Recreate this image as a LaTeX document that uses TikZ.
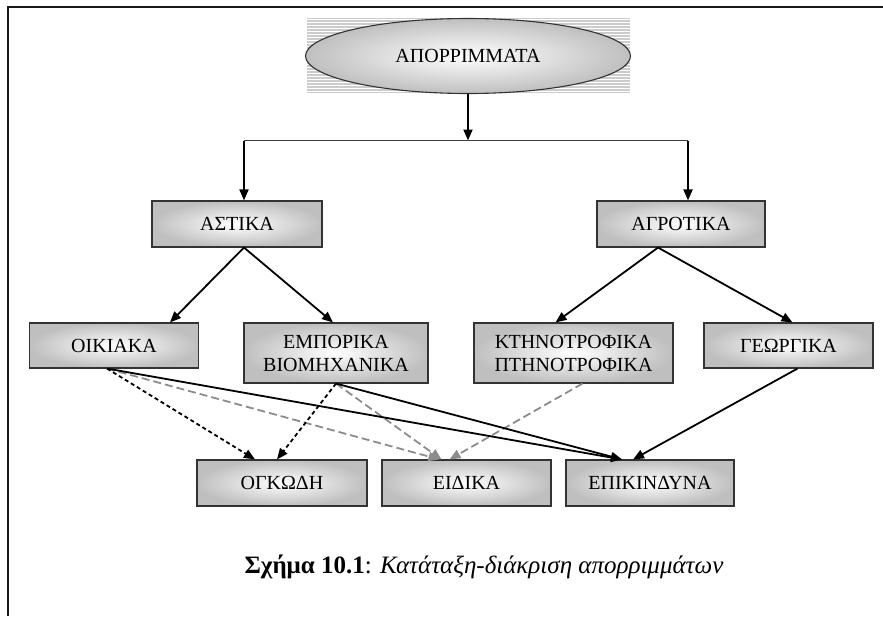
\documentclass[tikz,border=0pt]{standalone}
\usepackage{fontspec}
\setmainfont{Liberation Serif}
\usetikzlibrary{arrows.meta,shapes.geometric,calc}
\tikzset{
  box/.style={draw=black!80, line width=1.1pt, inner color=white, outer color=black!25,
    inner sep=0pt, align=center, font=\fontsize{20}{23}\selectfont},
  arr/.style={line width=1.8pt, draw=black, -{Triangle[length=11pt,width=9pt]}},
  darr/.style={line width=1.8pt, draw=black, dash pattern=on 4pt off 3pt, -{Triangle[length=11pt,width=9pt]}},
  garr/.style={line width=1.8pt, draw=black!45, dash pattern=on 8pt off 4pt, -{Triangle[length=11pt,width=9pt,fill=black!45]}},
}
\begin{document}
\begin{tikzpicture}[x=1pt,y=-1pt]
\useasboundingbox (0,0) rectangle (883,616);
% frame
\draw[line width=2.6pt, black!90] (883,7) -- (8,7) -- (8,616);
% top ellipse with striped backdrop
\fill[black!20] (307,18) rectangle (630,93);
\foreach \yy in {19.5,22.5,...,92} \draw[white, line width=1.1pt] (307,\yy) -- (630,\yy);
\node[ellipse, draw=black!80, line width=1.1pt, inner color=white, outer color=black!25,
  minimum width=325pt, minimum height=75pt, inner sep=0pt,
  font=\fontsize{20}{23}\selectfont] (apo) at (468,56) {ΑΠΟΡΡΙΜΜΑΤΑ};
% nodes
\node[box, minimum width=170pt, minimum height=46pt] (astika) at (237,224) {ΑΣΤΙΚΑ};
\node[box, minimum width=168pt, minimum height=46pt] (agrotika) at (681,224) {ΑΓΡΟΤΙΚΑ};
\node[box, minimum width=169pt, minimum height=45pt] (oikiaka) at (114,345.5) {ΟΙΚΙΑΚΑ};
\node[box, minimum width=184pt, minimum height=60pt] (emporika) at (336,353) {ΕΜΠΟΡΙΚΑ\\ΒΙΟΜΗΧΑΝΙΚΑ};
\node[box, minimum width=199pt, minimum height=60pt] (ktino) at (573.5,353) {ΚΤΗΝΟΤΡΟΦΙΚΑ\\ΠΤΗΝΟΤΡΟΦΙΚΑ};
\node[box, minimum width=169pt, minimum height=45pt] (georgika) at (788.5,345.5) {ΓΕΩΡΓΙΚΑ};
\node[box, minimum width=170pt, minimum height=46pt] (ogkodi) at (282,483) {ΟΓΚΩΔΗ};
\node[box, minimum width=169pt, minimum height=46pt] (eidika) at (466.5,483) {ΕΙΔΙΚΑ};
\node[box, minimum width=168pt, minimum height=46pt] (epik) at (650,483) {ΕΠΙΚΙΝΔΥΝΑ};
% caption
\node[font=\fontsize{25}{29}\selectfont] (cap) at (484,567)
  {\textbf{Σχήμα 10.1}: \textit{Κατάταξη-διάκριση απορριμμάτων}};
% top connectors
\coordinate (split) at (468,140.5);
\coordinate (la) at (244,140.5);
\coordinate (ra) at (688,140.5);
\draw[arr] (apo.south) -- (split);
\draw[line width=1.8pt, black!75] (la) -- (ra);
\draw[arr] (la) -- (la |- astika.north);
\draw[arr] (ra) -- (ra |- agrotika.north);
% level 2 -> 3
\draw[arr] ([xshift=7pt]astika.south) -- ([xshift=56pt]oikiaka.north);
\draw[arr] ([xshift=7pt]astika.south) -- ([xshift=-3pt]emporika.north);
\draw[arr] ([xshift=-23pt]agrotika.south) -- ([xshift=-18pt]ktino.north);
\draw[arr] ([xshift=-23pt]agrotika.south) -- ([xshift=4pt]georgika.north);
% level 3 -> 4
\draw[garr] ([xshift=-7pt]oikiaka.south) -- ([xshift=-27pt]eidika.north);
\draw[garr] (emporika.south) -- ([xshift=-25pt]eidika.north);
\draw[garr] ([xshift=9pt]ktino.south) -- ([xshift=-17pt]eidika.north);
\draw[darr] ([xshift=-7pt]oikiaka.south) -- ([xshift=-27pt]ogkodi.north);
\draw[darr] (emporika.south) -- ([xshift=-5pt]ogkodi.north);
\draw[arr] ([xshift=-7pt]oikiaka.south) -- ([xshift=-28pt]epik.north);
\draw[arr] (emporika.south) -- ([xshift=-28pt]epik.north);
\draw[arr] ([xshift=9pt]georgika.south) -- ([xshift=-17pt]epik.north);
\end{tikzpicture}
\end{document}
